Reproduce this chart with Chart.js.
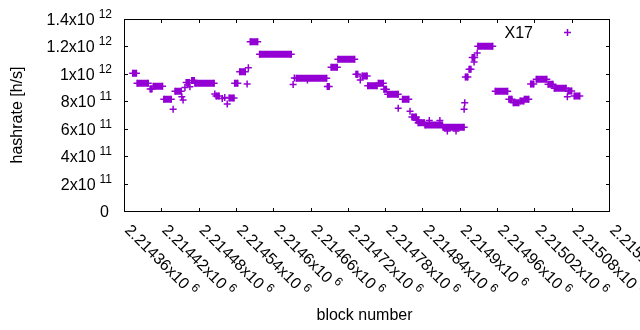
<!DOCTYPE html>
<html><head><meta charset="utf-8">
<script src="https://cdn.jsdelivr.net/npm/chart.js@4/dist/chart.umd.min.js"></script>
<style>html,body{margin:0;padding:0;background:#fff}#wrap{width:640px;height:330px}</style>
</head><body><div id="wrap"><canvas id="c" width="640" height="330"></canvas></div>
<script>
const seriesName = "X17";
const xTitle = "block number";
const yTitle = "hashrate [h/s]";

const xTickValues = [2214360,2214420,2214480,2214540,2214600,2214660,2214720,2214780,2214840,2214900,2214960,2215020,2215080,2215140];
const xTickLabels = ["2.21436","2.21442","2.21448","2.21454","2.2146","2.21466","2.21472","2.21478","2.21484","2.2149","2.21496","2.21502","2.21508","2.21514"];
const xTickExps = ["6","6","6","6","6","6","6","6","6","6","6","6","6","6"];

const yTickValues = [0,2e11,4e11,6e11,8e11,1e12,1.2e12,1.4e12];
const yTickLabels = ["0","2","4","6","8","1","1.2","1.4"];
const yTickExps = ["","11","11","11","11","12","12","12"];

// runs of consecutive blocks sharing (about) the same hashrate
const runStart = [2214374,2214381,2214402,2214407,2214424,2214442,2214460,2214469,2214474,2214508,2214529,2214538,2214546,2214563,2214578,2214637,2214687,2214693,2214704,2214733,2214743,2214752,2214769,2214778,2214784,2214808,2214823,2214830,2214833,2214844,2214873,2214909,2214915,2214920,2214929,2214957,2214979,2214986,2214997,2215004,2215014,2215023,2215042,2215052,2215074,2215084];
const runEnd   = [2214380,2214399,2214405,2214422,2214436,2214452,2214465,2214473,2214505,2214513,2214537,2214543,2214555,2214575,2214629,2214686,2214690,2214703,2214731,2214736,2214751,2214767,2214777,2214782,2214801,2214818,2214830,2214834,2214843,2214872,2214907,2214913,2214918,2214924,2214953,2214977,2214984,2214995,2215003,2215011,2215019,2215040,2215050,2215071,2215080,2215093];
const runValue = [1.004e12,9.31e11,8.90e11,9.09e11,8.14e11,8.73e11,9.37e11,9.52e11,9.31e11,8.39e11,8.24e11,9.31e11,1.016e12,1.234e12,1.143e12,9.68e11,9.08e11,1.048e12,1.106e12,9.97e11,9.84e11,9.14e11,9.31e11,8.87e11,8.51e11,8.14e11,6.85e11,6.61e11,6.44e11,6.27e11,6.10e11,9.77e11,1.033e12,1.119e12,1.201e12,8.73e11,8.14e11,7.90e11,8.02e11,8.14e11,9.26e11,9.60e11,9.24e11,8.95e11,8.75e11,8.39e11];

// single blocks
const pointBlock = [2214439,2214453,2214455,2214458,2214466,2214506,2214518,2214522,2214526,2214558,2214560,2214632,2214634,2214655,2214740,2214801,2214820,2214851,2214868,2214880,2214894,2214907,2214908,2214923,2214928,2215073];
const pointValue = [7.42e11,8.33e11,8.09e11,9.00e11,9.06e11,8.53e11,8.20e11,8.28e11,7.80e11,9.26e11,1.045e12,9.22e11,9.70e11,9.55e11,9.55e11,7.49e11,7.27e11,6.60e11,6.60e11,5.83e11,5.83e11,7.42e11,7.90e11,1.086e12,1.152e12,8.33e11];

const COLOR = '#9400D3';
const FONT = '"Liberation Sans", Arial, sans-serif';
const FS = 16, SFS = 12;

const runData = [];
runStart.forEach((s, i) => {
  runData.push({x: s, y: runValue[i]});
  runData.push({x: runEnd[i], y: runValue[i]});
  runData.push({x: runEnd[i] + 0.5, y: null});
});
const ptData = pointBlock.map((b, i) => ({x: b, y: pointValue[i]}));

function drawCross(ctx, x, y, r) {
  ctx.beginPath();
  ctx.moveTo(x - r, y); ctx.lineTo(x + r, y);
  ctx.moveTo(x, y - r); ctx.lineTo(x, y + r);
  ctx.stroke();
}

const framePlugin = {
  id: 'frame',
  afterDraw(chart) {
    const ctx = chart.ctx;
    const a = chart.chartArea;
    const xs = chart.scales.x, ys = chart.scales.y;
    ctx.save();
    ctx.strokeStyle = '#000';
    ctx.lineWidth = 1;
    ctx.strokeRect(a.left + 0.5, a.top + 0.5, a.right - a.left, a.bottom - a.top);
    const TL = 4;
    ctx.beginPath();
    yTickValues.forEach(v => {
      const py = Math.round(ys.getPixelForValue(v)) + 0.5;
      ctx.moveTo(a.left, py); ctx.lineTo(a.left + TL, py);
      ctx.moveTo(a.right + 1, py); ctx.lineTo(a.right + 1 - TL, py);
    });
    xTickValues.forEach(v => {
      const px = Math.round(xs.getPixelForValue(v)) + 0.5;
      ctx.moveTo(px, a.bottom + 1); ctx.lineTo(px, a.bottom + 1 - TL);
      ctx.moveTo(px, a.top); ctx.lineTo(px, a.top + TL);
    });
    ctx.stroke();

    ctx.fillStyle = '#000';
    // y tick labels
    yTickValues.forEach((v, i) => {
      const py = ys.getPixelForValue(v);
      const right = 112;
      if (yTickExps[i]) {
        ctx.font = FS + 'px ' + FONT;
        const main = yTickLabels[i] + 'x10';
        const wm = ctx.measureText(main).width;
        ctx.font = SFS + 'px ' + FONT;
        const ws = ctx.measureText(yTickExps[i]).width;
        const gap = 4;
        const x0 = right - ws - gap - wm;
        ctx.font = FS + 'px ' + FONT;
        ctx.textAlign = 'left'; ctx.textBaseline = 'alphabetic';
        ctx.fillText(main, x0, py + 6);
        ctx.font = SFS + 'px ' + FONT;
        ctx.fillText(yTickExps[i], x0 + wm + gap, py - 1);
      } else {
        ctx.font = FS + 'px ' + FONT;
        ctx.textAlign = 'right'; ctx.textBaseline = 'alphabetic';
        ctx.fillText(yTickLabels[i], right - 3, py + 6);
      }
    });
    // x tick labels, rotated -45 deg (reading downward)
    xTickValues.forEach((v, i) => {
      const px = xs.getPixelForValue(v);
      ctx.save();
      ctx.translate(px, a.bottom + 20);
      ctx.rotate(Math.PI / 4);
      ctx.textAlign = 'left'; ctx.textBaseline = 'alphabetic';
      ctx.font = FS + 'px ' + FONT;
      const main = xTickLabels[i] + 'x10';
      const wm = ctx.measureText(main).width;
      ctx.fillText(main, 0, 0);
      ctx.font = SFS + 'px ' + FONT;
      ctx.fillText(xTickExps[i], wm + 4, -6.5);
      ctx.restore();
    });
    // axis titles
    ctx.font = FS + 'px ' + FONT;
    ctx.textAlign = 'center'; ctx.textBaseline = 'alphabetic';
    ctx.fillText(xTitle, (a.left + a.right) / 2 - 2, 320);
    ctx.save();
    ctx.translate(22, (a.top + a.bottom) / 2);
    ctx.rotate(-Math.PI / 2);
    ctx.fillText(yTitle, 0, 0);
    ctx.restore();
    // key
    ctx.textAlign = 'right';
    ctx.fillText(seriesName, 533, 37.5);
    ctx.strokeStyle = COLOR;
    ctx.lineWidth = 1.5;
    drawCross(ctx, 567.5, 32.5, 3.5);
    ctx.restore();
  }
};

new Chart(document.getElementById('c').getContext('2d'), {
  type: 'line',
  data: {
    datasets: [
      {
        label: seriesName, data: runData, showLine: true, spanGaps: false,
        borderColor: COLOR, borderWidth: 7, borderCapStyle: 'butt', tension: 0,
        pointStyle: 'cross', pointRadius: 3.5, pointBorderWidth: 1.5,
        pointBorderColor: COLOR, pointBackgroundColor: COLOR, fill: false
      },
      {
        label: seriesName, data: ptData, showLine: false,
        pointStyle: 'cross', pointRadius: 3.5, pointBorderWidth: 1.5,
        pointBorderColor: COLOR, pointBackgroundColor: COLOR, fill: false
      }
    ]
  },
  options: {
    responsive: false, animation: false, devicePixelRatio: 1,
    layout: {padding: {left: 0, right: 31, top: 19, bottom: 0}},
    plugins: {legend: {display: false}, tooltip: {enabled: false}},
    scales: {
      x: {
        type: 'linear', min: 2214360, max: 2215140,
        ticks: {display: false, stepSize: 60},
        grid: {display: false}, border: {display: false},
        afterFit: s => { s.height = 119; }
      },
      y: {
        type: 'linear', min: 0, max: 1.4e12,
        ticks: {display: false, stepSize: 2e11},
        grid: {display: false}, border: {display: false},
        afterFit: s => { s.width = 124; }
      }
    }
  },
  plugins: [framePlugin]
});
</script>
</body></html>
